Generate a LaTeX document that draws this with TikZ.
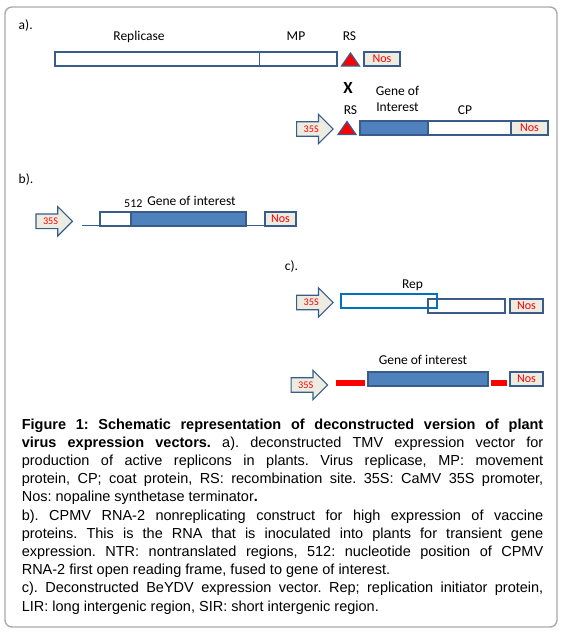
\documentclass[tikz,border=0pt]{standalone}
\usepackage{fontspec}
\usetikzlibrary{shapes.arrows}
\newfontfamily\lblfont{Carlito}
\newfontfamily\capfont{Liberation Sans}
\definecolor{barblue}{RGB}{56,93,138}
\definecolor{genefill}{RGB}{79,129,189}
\definecolor{nosfill}{RGB}{238,236,225}
\definecolor{repblue}{RGB}{0,112,192}
\definecolor{framegray}{RGB}{170,170,170}
\setlength{\parindent}{0pt}
\begin{document}
\begin{tikzpicture}[x=1pt,y=-1pt]
\tikzstyle{every node}+=[inner sep=0pt]
\tikzstyle{lbl}=[font=\lblfont\fontsize{13.5}{16}\selectfont, anchor=base]
\tikzstyle{bar}=[draw=barblue, line width=2pt, minimum height=14pt, outer sep=0pt, anchor=north west]
\tikzstyle{genebox}=[bar, fill=genefill]
\tikzstyle{nosbox}=[bar, fill=nosfill, text=red, font=\lblfont\fontsize{12}{12}\selectfont]
\tikzstyle{repbox}=[bar, draw=repblue]
\tikzstyle{promoter}=[single arrow, draw=barblue, fill=nosfill, line width=1.2pt, text=red, font=\lblfont\fontsize{10.2}{10.2}\selectfont, single arrow head extend=7.3pt, single arrow head indent=0pt, inner xsep=6.5pt, inner ysep=3.4pt, text height=6.6pt, text depth=0pt, anchor=tail]
\tikzstyle{rs}=[fill=red, draw=barblue, line width=1.2pt, line join=miter]
\tikzstyle{ntr}=[barblue, line width=0.9pt]
\tikzstyle{lir}=[red, line width=6pt]
\useasboundingbox (0,0) rectangle (563,633);
\draw [framegray, line width=1.4pt, rounded corners=7pt] (5,7) rectangle (557,627);
% a) TMV vectors
\node [lbl, anchor=base west] (laba) at (18.5,29.5) {a).};
\node [bar, minimum width=282pt] (tmv) at (54.5,52) {};
\draw [barblue, line width=0.8pt] ([xshift=204.5pt]tmv.north west) -- ([xshift=204.5pt]tmv.south west);
\node [lbl] (replicase) at (139,40.5) {Replicase};
\node [lbl] (mp) at (296,40.5) {MP};
\node [lbl] (rsa) at (349.5,40.5) {RS};
\coordinate (rs1) at (350.5,66);
\draw [rs] (rs1) ++(-9,0) -- ++(9,-13) -- ++(9,13) -- cycle;
\node [nosbox, minimum width=36pt] (nosa) at (364,52) {Nos};
\node [lbl, font=\lblfont\bfseries\fontsize{17}{17}\selectfont] (cross) at (348,93.3) {X};
\node [lbl, anchor=north, align=center] (goilab) at (397.5,86.2) {Gene of\\Interest};
\node [lbl] (rsb) at (350.5,114.3) {RS};
\node [lbl] (cp) at (465,114.3) {CP};
\node [promoter] (p35a) at (296,129) {35S};
\coordinate (rs2) at (347,134.5);
\draw [rs] (rs2) ++(-9,0) -- ++(9,-13) -- ++(9,13) -- cycle;
\node [genebox, minimum width=68pt] (goia) at (360,121) {};
\node [bar, minimum width=83pt] (cpa) at (goia.north east) {};
\node [nosbox, minimum width=37pt] (nosa2) at (cpa.north east) {Nos};
% b) CPMV RNA-2
\node [lbl, anchor=base west] (labb) at (18.5,183) {b).};
\node [promoter] (p35b) at (35.3,221.3) {35S};
\node [bar, minimum width=31pt] (ntrb) at (100,212) {};
\node [genebox, minimum width=115pt] (goib) at (ntrb.north east) {};
\node [nosbox, minimum width=31pt] (nosb) at (265,212) {Nos};
\coordinate (ntr1) at (82,225);
\draw [ntr] (ntr1) -- (ntr1 -| ntrb.west);
\draw [ntr] (goib.east |- ntr1) -- (nosb.west |- ntr1);
\node [lbl, font=\lblfont\fontsize{12}{12}\selectfont] (pos512) at (133.3,207.7) {512};
\node [lbl] (goiblab) at (191.5,205) {Gene of interest};
% c) BeYDV
\node [lbl, anchor=base west] (labc) at (284.6,270.7) {c).};
\node [lbl] (replab) at (412.5,288) {Rep};
\node [promoter] (p35c) at (296,302.5) {35S};
\node [repbox, minimum width=96pt] (rep) at (341,293.5) {};
\node [bar, minimum width=77pt, minimum height=13.5pt] (rep2) at (428,299) {};
\node [nosbox, minimum width=33pt, minimum height=13.5pt] (nosc) at (510,299) {Nos};
\node [lbl] (goiclab) at (423,364) {Gene of interest};
\node [promoter] (p35d) at (290.5,385) {35S};
\node [genebox, minimum width=120pt] (goic) at (368,371.5) {};
\node [nosbox, minimum width=33pt, minimum height=13.5pt] (nosd) at (510,372) {Nos};
\coordinate (lir) at (336,382.5);
\draw [lir] (lir) -- ([xshift=-3.5pt]goic.west |- lir);
\draw [lir] ([xshift=3pt]goic.east |- lir) -- ([xshift=-3pt]nosd.west |- lir);
% caption
\node [anchor=north west, text width=521.5pt, align=justify, font=\capfont\fontsize{14.5}{18.2}\selectfont] (caption) at (21.6,418.4) {\hyphenpenalty=10000 \frenchspacing
\textbf{Figure 1: Schematic representation of deconstructed version of plant\linebreak
virus expression vectors.} a). deconstructed TMV expression vector for\linebreak
production of active replicons in plants. Virus replicase, MP: movement\linebreak
protein, CP; coat protein, RS: recombination site. 35S: CaMV 35S promoter,\linebreak
Nos: nopaline synthetase terminator\textbf{.}\par
b). CPMV RNA-2 nonreplicating construct for high expression of vaccine\linebreak
proteins. This is the RNA that is inoculated into plants for transient gene\linebreak
expression. NTR: nontranslated regions, 512: nucleotide position of CPMV\linebreak
RNA-2 first open reading frame, fused to gene of interest.\par
c). Deconstructed BeYDV expression vector. Rep; replication initiator protein,\linebreak
LIR: long intergenic region, SIR: short intergenic region.};
\end{tikzpicture}
\end{document}
